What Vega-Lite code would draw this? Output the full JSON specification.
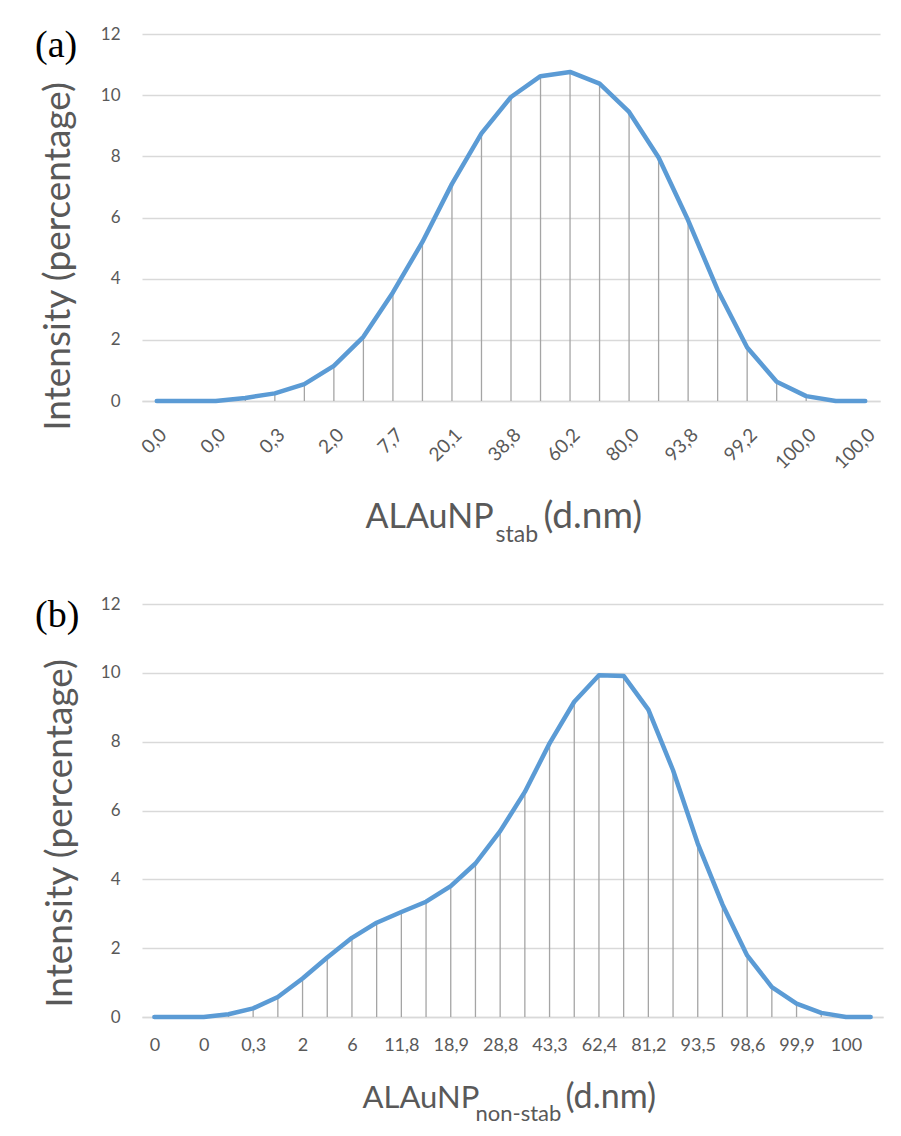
{
  "$schema": "https://vega.github.io/schema/vega-lite/v6.json",
  "background": "white",
  "padding": {"left": 35, "top": 25, "right": 10, "bottom": 10},
  "spacing": 49,
  "config": {
    "font": "Lato",
    "view": {"stroke": null},
    "axis": {"labelFont": "Lato", "titleFont": "Lato", "titleFontWeight": "normal", "labelColor": "#595959", "titleColor": "#595959"}
  },
  "datasets": {
    "a": [
      {"idx": 0, "size": "0,0", "intensity": 0},
      {"idx": 1, "size": "0,0\u200b", "intensity": 0},
      {"idx": 2, "size": "0,0\u200b\u200b", "intensity": 0},
      {"idx": 3, "size": "0,1", "intensity": 0.1},
      {"idx": 4, "size": "0,3", "intensity": 0.25},
      {"idx": 5, "size": "0,9", "intensity": 0.55},
      {"idx": 6, "size": "2,0", "intensity": 1.15},
      {"idx": 7, "size": "4,2", "intensity": 2.1},
      {"idx": 8, "size": "7,7", "intensity": 3.55},
      {"idx": 9, "size": "12,9", "intensity": 5.2},
      {"idx": 10, "size": "20,1", "intensity": 7.1},
      {"idx": 11, "size": "28,8", "intensity": 8.75},
      {"idx": 12, "size": "38,8", "intensity": 9.94},
      {"idx": 13, "size": "49,4", "intensity": 10.62},
      {"idx": 14, "size": "60,2", "intensity": 10.76},
      {"idx": 15, "size": "70,6", "intensity": 10.38},
      {"idx": 16, "size": "80,0", "intensity": 9.45},
      {"idx": 17, "size": "87,9", "intensity": 7.96},
      {"idx": 18, "size": "93,8", "intensity": 5.91},
      {"idx": 19, "size": "97,4", "intensity": 3.63},
      {"idx": 20, "size": "99,2", "intensity": 1.75},
      {"idx": 21, "size": "99,8", "intensity": 0.63},
      {"idx": 22, "size": "100,0", "intensity": 0.16},
      {"idx": 23, "size": "100,0\u200b", "intensity": 0},
      {"idx": 24, "size": "100,0\u200b\u200b", "intensity": 0}
    ],
    "b": [
      {"idx": 0, "size": "0", "intensity": 0},
      {"idx": 1, "size": "0\u200b", "intensity": 0},
      {"idx": 2, "size": "0\u200b\u200b", "intensity": 0},
      {"idx": 3, "size": "0,1", "intensity": 0.08},
      {"idx": 4, "size": "0,3", "intensity": 0.25},
      {"idx": 5, "size": "0,9", "intensity": 0.58},
      {"idx": 6, "size": "2", "intensity": 1.12},
      {"idx": 7, "size": "3,8", "intensity": 1.73},
      {"idx": 8, "size": "6", "intensity": 2.3},
      {"idx": 9, "size": "8,8", "intensity": 2.74},
      {"idx": 10, "size": "11,8", "intensity": 3.05},
      {"idx": 11, "size": "15,2", "intensity": 3.35},
      {"idx": 12, "size": "18,9", "intensity": 3.8},
      {"idx": 13, "size": "23,3", "intensity": 4.46},
      {"idx": 14, "size": "28,8", "intensity": 5.4},
      {"idx": 15, "size": "35,3", "intensity": 6.54},
      {"idx": 16, "size": "43,3", "intensity": 7.95},
      {"idx": 17, "size": "52,5", "intensity": 9.16},
      {"idx": 18, "size": "62,4", "intensity": 9.93},
      {"idx": 19, "size": "72,3", "intensity": 9.91},
      {"idx": 20, "size": "81,2", "intensity": 8.93},
      {"idx": 21, "size": "88,4", "intensity": 7.17},
      {"idx": 22, "size": "93,5", "intensity": 5.04},
      {"idx": 23, "size": "96,8", "intensity": 3.27},
      {"idx": 24, "size": "98,6", "intensity": 1.79},
      {"idx": 25, "size": "99,5", "intensity": 0.87},
      {"idx": 26, "size": "99,9", "intensity": 0.39},
      {"idx": 27, "size": "100", "intensity": 0.12},
      {"idx": 28, "size": "100\u200b", "intensity": 0},
      {"idx": 29, "size": "100\u200b\u200b", "intensity": 0}
    ]
  },
  "vconcat": [
    {
      "data": {"name": "a"},
      "width": 738,
      "height": 367,
      "title": {"text": "(a)", "anchor": "start", "frame": "group", "dx": -107, "offset": -40, "baseline": "top", "font": "Liberation Serif", "fontSize": 38, "fontWeight": "normal", "color": "#000000"},
      "layer": [
        {
          "mark": {"type": "rule", "color": "#a5a5a5", "strokeWidth": 1.3},
          "encoding": {
            "x": {"field": "size", "type": "ordinal", "sort": null, "scale": {"type": "point", "padding": 0.5},
              "axis": {"orient": "bottom", "title": "ALAuNP", "titleX": 223, "titleY": 126, "titleAlign": "left", "titleBaseline": "alphabetic", "titleFontSize": 34,
                "labelAngle": -45, "labelExpr": "round(datum.index * 24) % 2 == 0 ? datum.label : ''", "labelOverlap": false, "labelFontSize": 19, "labelPadding": 24,
                "ticks": false, "grid": false, "domain": true, "domainColor": "#d9d9d9", "domainWidth": 1.3}},
            "y": {"field": "intensity", "type": "quantitative", "scale": {"domain": [0, 12], "nice": false},
              "axis": {"orient": "left", "values": [0, 2, 4, 6, 8, 10, 12], "title": "Intensity (percentage)", "titleFontSize": 37, "titleAngle": 270, "titleX": -84, "titleY": 222, "titleAlign": "center", "titleBaseline": "middle",
                "labelFontSize": 17, "labelPadding": 22, "ticks": false, "domain": false, "grid": true, "gridColor": "#d9d9d9", "gridWidth": 1.3}},
            "y2": {"datum": 0}
          }
        },
        {
          "mark": {"type": "line", "color": "#5b9bd5", "strokeWidth": 4.5, "strokeCap": "round", "strokeJoin": "round"},
          "encoding": {
            "x": {"field": "size", "type": "ordinal", "sort": null,
              "axis": {"orient": "bottom", "title": "stab", "titleX": 353, "titleY": 140, "titleAlign": "left", "titleBaseline": "alphabetic", "titleFontSize": 23,
                "labels": false, "ticks": false, "grid": false, "domain": false}},
            "y": {"field": "intensity", "type": "quantitative",
              "axis": {"orient": "left", "title": "(d.nm)", "titleAngle": 0, "titleX": 401, "titleY": 493, "titleAlign": "left", "titleBaseline": "alphabetic", "titleFontSize": 37,
                "labels": false, "ticks": false, "grid": false, "domain": false}},
            "order": {"field": "idx", "type": "quantitative"}
          }
        }
      ],
      "resolve": {"axis": {"x": "independent", "y": "independent"}}
    },
    {
      "data": {"name": "b"},
      "width": 741,
      "height": 413,
      "title": {"text": "(b)", "anchor": "start", "frame": "group", "dx": -107, "offset": -40, "baseline": "top", "font": "Liberation Serif", "fontSize": 38, "fontWeight": "normal", "color": "#000000"},
      "layer": [
        {
          "mark": {"type": "rule", "color": "#a5a5a5", "strokeWidth": 1.3},
          "encoding": {
            "x": {"field": "size", "type": "ordinal", "sort": null, "scale": {"type": "point", "padding": 0.5},
              "axis": {"orient": "bottom", "title": "ALAuNP", "titleX": 220, "titleY": 90, "titleAlign": "left", "titleBaseline": "alphabetic", "titleFontSize": 31,
                "labelAngle": 0, "labelExpr": "round(datum.index * 29) % 2 == 0 ? datum.label : ''", "labelOverlap": false, "labelFontSize": 18, "labelPadding": 19,
                "ticks": false, "grid": false, "domain": true, "domainColor": "#d9d9d9", "domainWidth": 1.3}},
            "y": {"field": "intensity", "type": "quantitative", "scale": {"domain": [0, 12], "nice": false},
              "axis": {"orient": "left", "values": [0, 2, 4, 6, 8, 10, 12], "title": "Intensity (percentage)", "titleFontSize": 37, "titleAngle": 270, "titleX": -82, "titleY": 229, "titleAlign": "center", "titleBaseline": "middle",
                "labelFontSize": 17, "labelPadding": 22, "ticks": false, "domain": false, "grid": true, "gridColor": "#d9d9d9", "gridWidth": 1.3}},
            "y2": {"datum": 0}
          }
        },
        {
          "mark": {"type": "line", "color": "#5b9bd5", "strokeWidth": 4.5, "strokeCap": "round", "strokeJoin": "round"},
          "encoding": {
            "x": {"field": "size", "type": "ordinal", "sort": null,
              "axis": {"orient": "bottom", "title": "non-stab", "titleX": 333, "titleY": 103, "titleAlign": "left", "titleBaseline": "alphabetic", "titleFontSize": 22,
                "labels": false, "ticks": false, "grid": false, "domain": false}},
            "y": {"field": "intensity", "type": "quantitative",
              "axis": {"orient": "left", "title": "(d.nm)", "titleAngle": 0, "titleX": 423, "titleY": 503, "titleAlign": "left", "titleBaseline": "alphabetic", "titleFontSize": 34,
                "labels": false, "ticks": false, "grid": false, "domain": false}},
            "order": {"field": "idx", "type": "quantitative"}
          }
        }
      ],
      "resolve": {"axis": {"x": "independent", "y": "independent"}}
    }
  ]
}
